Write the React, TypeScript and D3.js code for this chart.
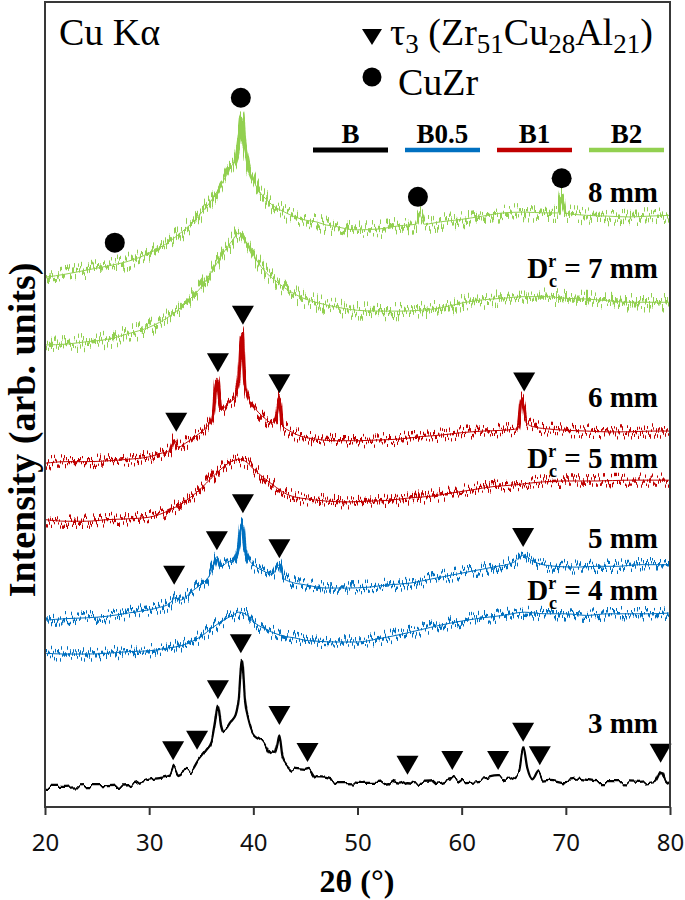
import React, { useEffect, useRef } from "react";
import * as d3 from "d3";

type P = [number, number];

// ---------- data (2θ in degrees, intensity in arb. units, stacked) ----------
const X_TICKS = [20, 30, 40, 50, 60, 70, 80];

const B_3MM: P[] = [
  [20, 25], [22, 25], [24, 26], [26, 26], [28, 27], [29.5, 32], [30, 34], [31, 36], [32, 39],
  [32.4, 50], [32.8, 41], [33.5, 46], [34, 45], [34.7, 58], [35.5, 71], [36, 81], [36.3, 102],
  [36.6, 127], [36.9, 102], [37.2, 93], [37.8, 103], [38.3, 112], [38.6, 133], [38.9, 184],
  [39.2, 133], [39.6, 106], [40, 92], [40.5, 87], [41, 82], [41.6, 68], [42, 66], [42.3, 77],
  [42.5, 89], [42.8, 63], [43.3, 52], [44, 46], [45, 45], [45.3, 46], [46, 36], [47, 35],
  [48, 31], [49, 31], [50, 30], [52, 30], [53, 32], [54, 29], [54.8, 32], [56, 30], [58, 32],
  [59.1, 36], [60, 32], [62, 34], [63.5, 37], [64.5, 35], [65.5, 43], [65.9, 73], [66.3, 46],
  [66.8, 32], [67.4, 43], [67.8, 34], [68.5, 35], [70, 32], [71, 34], [73, 31], [75, 31],
  [77, 30], [78.5, 32], [79.2, 46], [79.6, 34], [80, 30],
];

const B05_DC4: P[] = [
  [20, 191], [22, 190], [24, 190], [26, 191], [28, 193], [30, 194], [32, 198], [33, 200],
  [34, 205], [35, 212], [36, 222], [37, 231], [38, 238], [38.6, 242], [39.2, 240], [40, 230],
  [41, 222], [42, 216], [43, 212], [44, 210], [45, 207], [46, 206], [48, 205], [50, 205],
  [52, 209], [54, 214], [56, 220], [58, 226], [60, 231], [62, 235], [64, 238], [66, 242],
  [68, 240], [70, 240], [72, 238], [74, 240], [76, 240], [78, 240], [80, 241],
];

const B05_5MM: P[] = [
  [20, 232], [22, 234], [24, 235], [26, 237], [28, 241], [30, 245], [31, 248], [32, 253],
  [32.5, 260], [33, 257], [34, 267], [35, 277], [35.8, 288], [36.2, 301], [36.5, 311],
  [36.9, 299], [37.5, 304], [38.2, 309], [38.6, 325], [38.9, 354], [39.2, 321], [39.6, 307],
  [40.2, 299], [41, 293], [41.8, 289], [42.5, 301], [42.9, 284], [43.5, 280], [45, 276],
  [47, 272], [49, 272], [51, 273], [53, 276], [55, 278], [57, 283], [59, 288], [61, 293],
  [63, 298], [65, 304], [65.9, 313], [67, 304], [69, 299], [71, 298], [73, 299], [75, 299],
  [77, 301], [80, 301],
];

const B1_DC5: P[] = [
  [20, 357], [22, 355], [24, 355], [26, 357], [28, 358], [30, 360], [32, 369], [33, 376],
  [34, 385], [35, 396], [36, 409], [37, 421], [38, 430], [38.6, 432], [39.3, 429], [40, 420],
  [41, 409], [42, 399], [43, 390], [44, 385], [45, 383], [47, 380], [49, 379], [51, 380],
  [53, 381], [55, 384], [57, 386], [59, 390], [61, 394], [63, 398], [65, 400], [67, 403],
  [70, 405], [73, 405], [76, 406], [80, 406],
];

const B1_6MM: P[] = [
  [20, 427], [22, 429], [24, 429], [26, 430], [28, 432], [30, 435], [31, 439], [32, 443],
  [32.4, 456], [32.8, 447], [33.5, 452], [34.5, 461], [35.5, 472], [36.1, 484], [36.5, 533],
  [36.9, 493], [37.5, 501], [38.2, 508], [38.6, 530], [38.9, 589], [39.2, 524], [39.6, 506],
  [40.3, 493], [41, 484], [41.8, 477], [42.2, 484], [42.5, 508], [42.8, 474], [43.5, 467],
  [44.5, 461], [46, 457], [48, 455], [50, 455], [52, 456], [54, 457], [56, 460], [58, 462],
  [60, 465], [62, 467], [64, 468], [65.4, 470], [65.8, 508], [66.2, 477], [67, 472], [68, 470],
  [70, 468], [72, 467], [74, 466], [76, 466], [78, 467], [80, 467],
];

const B2_DC7: P[] = [
  [20, 574], [22, 575], [24, 578], [26, 581], [28, 588], [30, 596], [32, 610], [33, 620],
  [34, 632], [35, 646], [36, 665], [37, 686], [38, 704], [38.6, 713], [39.2, 704], [40, 686],
  [41, 667], [42, 655], [43, 645], [44, 637], [45, 631], [46, 627], [48, 621], [50, 617],
  [52, 616], [54, 616], [56, 617], [58, 620], [60, 626], [62, 630], [64, 632], [66, 634],
  [68, 634], [70, 632], [72, 631], [74, 629], [76, 627], [78, 627], [80, 627],
];

const B2_8MM: P[] = [
  [20, 658], [22, 662], [24, 667], [26, 672], [28, 678], [30, 688], [32, 703], [33, 713],
  [34, 724], [35, 738], [36, 754], [37, 775], [37.8, 794], [38.4, 810], [38.7, 835], [38.9, 856],
  [39.1, 829], [39.5, 797], [40, 779], [40.5, 766], [41, 758], [42, 746], [43, 739], [44, 733],
  [45, 729], [46, 727], [47, 723], [48, 721], [49, 718], [50, 717], [52, 718], [54, 722],
  [55.6, 724], [56, 735], [56.4, 724], [58, 727], [60, 730], [62, 734], [64, 738], [66, 739],
  [68, 738], [69.3, 738], [69.6, 759], [69.9, 738], [72, 735], [74, 734], [76, 733], [78, 734],
  [80, 735],
];

// τ3 peak markers (tip position) and CuZr markers (centre)
const TAU_3MM: P[] = [
  [32.3, 58], [34.6, 71], [36.6, 134], [38.8, 191], [42.5, 102], [45.2, 56], [54.8, 40],
  [59.1, 46], [63.5, 46], [65.9, 81], [67.5, 52], [79.1, 55],
];
const TAU_5MM: P[] = [[32.4, 276], [36.5, 319], [39.0, 365], [42.5, 309], [65.9, 323]];
const TAU_6MM: P[] = [[32.6, 466], [36.6, 540], [39.0, 599], [42.5, 514], [66.0, 516]];
const CUZR_8MM: P[] = [[26.7, 701], [38.8, 881], [55.8, 758], [69.6, 781]];

const LEGEND_KEYS = ["B", "B0.5", "B1", "B2"];
const LEGEND_COLORS = ["#000000", "#0070C0", "#C00000", "#92D050"];

// curve annotations: [right edge 2θ, baseline intensity]
const CURVE_LABELS: { at: P; value: string; dc: boolean }[] = [
  { at: [78.85, 752], value: "8 mm", dc: false },
  { at: [78.85, 657], value: "7 mm", dc: true },
  { at: [78.85, 497], value: "6 mm", dc: false },
  { at: [78.85, 421], value: "5 mm", dc: true },
  { at: [78.85, 322], value: "5 mm", dc: false },
  { at: [78.85, 257], value: "4 mm", dc: true },
  { at: [78.85, 92], value: "3 mm", dc: false },
];

// ---------- layout ----------
const W = 685;
const H = 900;
const L = 45;
const R = 670;
const T = 2;
const BOT = 807;

const SERIF = "'Liberation Serif', 'Times New Roman', serif";

function NoiseFilter({ id, seed, scale, freq }: { id: string; seed: number; scale: number; freq: string }) {
  return (
    <filter
      id={id}
      filterUnits="userSpaceOnUse"
      x="0"
      y="0"
      width={W}
      height={H}
      colorInterpolationFilters="sRGB"
    >
      <feTurbulence type="fractalNoise" baseFrequency={freq} numOctaves="2" seed={seed} result="t" />
      <feComponentTransfer in="t" result="t2">
        <feFuncR type="linear" slope="0" intercept="0.5" />
        <feFuncG type="linear" slope="2.4" intercept="-0.7" />
        <feFuncA type="linear" slope="0" intercept="1" />
      </feComponentTransfer>
      <feDisplacementMap in="SourceGraphic" in2="t2" scale={scale} xChannelSelector="R" yChannelSelector="G" />
    </filter>
  );
}

export default function App() {
  const axisRef = useRef<SVGGElement | null>(null);

  const x = d3.scaleLinear().domain([20, 80]).range([L, R]);
  const y = d3.scaleLinear().domain([0, 1000]).range([BOT, T]);

  useEffect(() => {
    document.body.style.margin = "0";
    if (!axisRef.current) return;
    const g = d3.select(axisRef.current);
    g.selectAll("*").remove();
    g.call(
      d3
        .axisBottom(x)
        .tickValues(X_TICKS)
        .tickSize(8)
        .tickSizeOuter(0)
        .tickPadding(19)
        .tickFormat(d3.format("d"))
    );
    g.select(".domain").remove();
    g.selectAll(".tick line").attr("stroke", "#333").attr("stroke-width", 2);
    g.selectAll(".tick text")
      .attr("font-family", "'Noto Sans', 'Open Sans', sans-serif")
      .attr("font-size", 24)
      .attr("fill", "#111");
  }, []);

  const line = d3
    .line<P>()
    .x((d) => x(d[0]))
    .y((d) => y(d[1]))
    .curve(d3.curveMonotoneX);

  const series: { data: P[]; color: string; noise: string; band: number }[] = [
    { data: B2_8MM, color: LEGEND_COLORS[3], noise: "nG1", band: 4.4 },
    { data: B2_DC7, color: LEGEND_COLORS[3], noise: "nG2", band: 4.4 },
    { data: B1_6MM, color: LEGEND_COLORS[2], noise: "nM1", band: 3.4 },
    { data: B1_DC5, color: LEGEND_COLORS[2], noise: "nM2", band: 3.4 },
    { data: B05_5MM, color: LEGEND_COLORS[1], noise: "nM2", band: 3.4 },
    { data: B05_DC4, color: LEGEND_COLORS[1], noise: "nM1", band: 3.4 },
  ];

  const tri = (p: P, w: number, h: number) => {
    const cx = x(p[0]);
    const cy = y(p[1]);
    return `M${cx - w / 2},${cy - h}L${cx + w / 2},${cy - h}L${cx},${cy}Z`;
  };

  const legendX0 = 313;
  const legendStep = 92;
  const legendLen = 75;

  return (
    <svg
      width={W}
      height={H}
      viewBox={`0 0 ${W} ${H}`}
      style={{ position: "absolute", left: 0, top: 0, background: "#fff" }}
    >
      <defs>
        <NoiseFilter id="nG1" seed={4} scale={15} freq="0.7 0.02" />
        <NoiseFilter id="nG2" seed={11} scale={15} freq="0.7 0.02" />
        <NoiseFilter id="nM1" seed={7} scale={12} freq="0.7 0.02" />
        <NoiseFilter id="nM2" seed={15} scale={12} freq="0.7 0.02" />
        <NoiseFilter id="nK" seed={2} scale={5} freq="0.14 0.02" />
        <clipPath id="plotClip">
          <rect x={L} y={T} width={R - L} height={BOT - T} />
        </clipPath>
      </defs>

      {/* traces */}
      <g clipPath="url(#plotClip)">
        {series.map((s, i) => {
          const d = line(s.data) || "";
          return (
            <g key={i}>
              <path
                d={d}
                fill="none"
                stroke={s.color}
                strokeWidth={s.band}
                strokeLinejoin="round"
                filter={`url(#${s.noise})`}
              />
              <path d={d} fill="none" stroke={s.color} strokeWidth={1} strokeLinejoin="round" />
            </g>
          );
        })}
        <path
          d={line(B_3MM) || ""}
          fill="none"
          stroke={LEGEND_COLORS[0]}
          strokeWidth={2.3}
          strokeLinejoin="round"
          filter="url(#nK)"
        />
      </g>

      {/* markers */}
      <g fill="#000">
        {[...TAU_3MM, ...TAU_5MM, ...TAU_6MM].map((p, i) => (
          <path key={"t" + i} d={tri(p, 22, 19)} />
        ))}
        {CUZR_8MM.map((p, i) => (
          <circle key={"c" + i} cx={x(p[0])} cy={y(p[1])} r={10} />
        ))}
      </g>

      {/* curve labels */}
      <g fontFamily={SERIF} fontWeight="bold" fontSize={29} fill="#000" textAnchor="end">
        {CURVE_LABELS.map((lb, i) =>
          lb.dc ? (
            <text key={i} x={x(lb.at[0])} y={y(lb.at[1])}>
              <tspan>D</tspan>
              <tspan fontSize={18} dy={-11}>r</tspan>
              <tspan fontSize={18} dx={-7} dy={20}>c</tspan>
              <tspan dy={-9}>{" = " + lb.value}</tspan>
            </text>
          ) : (
            <text key={i} x={x(lb.at[0])} y={y(lb.at[1])}>
              {lb.value}
            </text>
          )
        )}
      </g>

      {/* frame */}
      <rect x={L} y={T} width={R - L} height={BOT - T} fill="none" stroke="#383838" strokeWidth={2} />

      {/* x axis */}
      <g ref={axisRef} transform={`translate(0,${BOT})`} />

      {/* top-left annotation */}
      <text x={59} y={45} fontFamily={SERIF} fontSize={38} fill="#000">
        Cu Kα
      </text>

      {/* phase legend */}
      <path d={`M362,29L382,29L372,45Z`} fill="#000" />
      <text x={390} y={45} fontFamily={SERIF} fontSize={38} fill="#000">
        <tspan>τ</tspan>
        <tspan fontSize={27} dy={8}>3</tspan>
        <tspan dy={-8}> (Zr</tspan>
        <tspan fontSize={27} dy={8}>51</tspan>
        <tspan dy={-8}>Cu</tspan>
        <tspan fontSize={27} dy={8}>28</tspan>
        <tspan dy={-8}>Al</tspan>
        <tspan fontSize={27} dy={8}>21</tspan>
        <tspan dy={-8}>)</tspan>
      </text>
      <circle cx={372} cy={77} r={9.5} fill="#000" />
      <text x={398} y={95} fontFamily={SERIF} fontSize={38} fill="#000">
        CuZr
      </text>

      {/* sample legend */}
      {LEGEND_KEYS.map((k, i) => {
        const x0 = legendX0 + i * legendStep;
        return (
          <g key={k}>
            <line
              x1={x0}
              x2={x0 + legendLen}
              y1={150}
              y2={150}
              stroke={LEGEND_COLORS[i]}
              strokeWidth={i === 0 ? 5 : 4.5}
            />
            <text
              x={x0 + legendLen / 2}
              y={143}
              textAnchor="middle"
              fontFamily={SERIF}
              fontWeight="bold"
              fontSize={27}
              fill="#000"
            >
              {k}
            </text>
          </g>
        );
      })}

      {/* axis titles */}
      <text
        x={357}
        y={892}
        textAnchor="middle"
        fontFamily={SERIF}
        fontWeight="bold"
        fontSize={32}
        fill="#000"
      >
        2θ (°)
      </text>
      <text
        transform={`translate(35,430) rotate(-90)`}
        textAnchor="middle"
        fontFamily={SERIF}
        fontWeight="bold"
        fontSize={38}
        fill="#000"
      >
        Intensity (arb. units)
      </text>
    </svg>
  );
}
